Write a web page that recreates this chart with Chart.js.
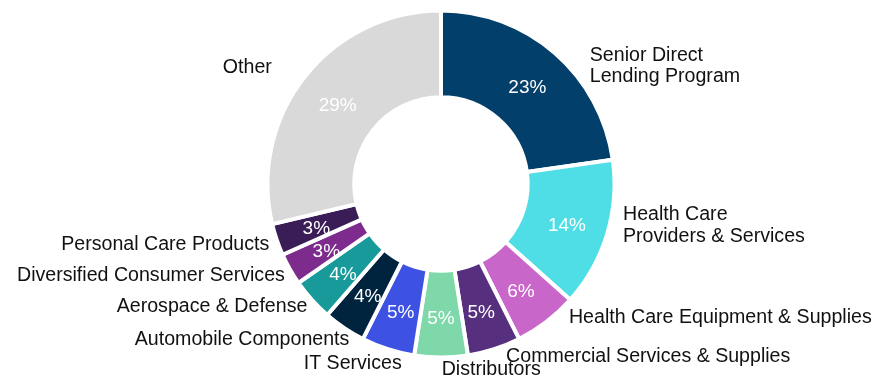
<!DOCTYPE html>
<html>
<head>
<meta charset="utf-8">
<title>Portfolio by Industry</title>
<script src="https://cdn.jsdelivr.net/npm/chart.js@4/dist/chart.umd.min.js"></script>
<style>
  html, body { margin: 0; padding: 0; background: #ffffff; }
  #wrap { width: 875px; height: 380px; position: relative; }
</style>
</head>
<body>
<div id="wrap"><canvas id="chart" width="875" height="380"></canvas></div>
<script>
// Industry categories (a line break is marked with "\n")
const industries = [
  'Senior Direct\nLending Program',
  'Health Care\nProviders & Services',
  'Health Care Equipment & Supplies',
  'Commercial Services & Supplies',
  'Distributors',
  'IT Services',
  'Automobile Components',
  'Aerospace & Defense',
  'Diversified Consumer Services',
  'Personal Care Products',
  'Other'
];

// Share of portfolio, in percent
const shares = [23, 14, 6, 5, 5, 5, 4, 4, 3, 3, 29];

const sliceColors = [
  '#023f6b', '#4fdde6', '#c866c9', '#56307f', '#7fd8a9', '#3d52e3',
  '#00243e', '#189a9b', '#7d2b8c', '#3a1d57', '#d9d9d9'
];

// Label placement relative to each slice's outer midpoint: [dx, dy, align]
const labelLayout = [
  [35, 13, 'left'], [16, -9, 'left'], [22.5, -4.3, 'left'], [12, 7, 'left'],
  [0.7, 12, 'left'], [13.8, 14, 'right'], [5, 12, 'right'], [-4.5, 7, 'right'],
  [-5, 6.6, 'right'], [-7.4, 4.8, 'right'], [-33, -8.4, 'right']
];

const FONT = '"Liberation Sans", Arial, Helvetica, sans-serif';

const sliceLabels = {
  id: 'sliceLabels',
  afterDatasetsDraw(chart) {
    const ctx = chart.ctx;
    const meta = chart.getDatasetMeta(0);
    const values = chart.data.datasets[0].data;
    ctx.save();
    meta.data.forEach((arc, i) => {
      const p = arc.getProps(['x', 'y', 'startAngle', 'endAngle', 'innerRadius', 'outerRadius'], true);
      const mid = (p.startAngle + p.endAngle) / 2;
      const cos = Math.cos(mid), sin = Math.sin(mid);

      // value inside the ring
      const rMid = (p.innerRadius + p.outerRadius) / 2 + 1.5;
      ctx.font = '19px ' + FONT;
      ctx.fillStyle = '#ffffff';
      ctx.textAlign = 'center';
      ctx.textBaseline = 'middle';
      ctx.fillText(values[i] + '%', p.x + cos * rMid, p.y + sin * rMid + 3);

      // category name outside the ring
      const [dx, dy, align] = labelLayout[i];
      const ax = p.x + cos * p.outerRadius + dx;
      const ay = p.y + sin * p.outerRadius + dy;
      const lines = chart.data.labels[i].split('\n');
      const lh = 21.6;
      ctx.font = '19.6px ' + FONT;
      ctx.fillStyle = '#111111';
      ctx.textAlign = align;
      lines.forEach((ln, k) => {
        ctx.fillText(ln, ax, ay + (k - (lines.length - 1) / 2) * lh);
      });
    });
    ctx.restore();
  }
};

new Chart(document.getElementById('chart'), {
  type: 'doughnut',
  data: {
    labels: industries,
    datasets: [{
      data: shares,
      backgroundColor: sliceColors,
      borderColor: '#ffffff',
      borderWidth: 4,
      hoverOffset: 0
    }]
  },
  options: {
    responsive: false,
    animation: false,
    radius: 173.5,
    cutout: '50%',
    layout: { padding: { left: 7, right: 0, top: 0, bottom: 12 } },
    plugins: {
      legend: { display: false },
      tooltip: { enabled: false }
    },
    events: []
  },
  plugins: [sliceLabels]
});
</script>
</body>
</html>
